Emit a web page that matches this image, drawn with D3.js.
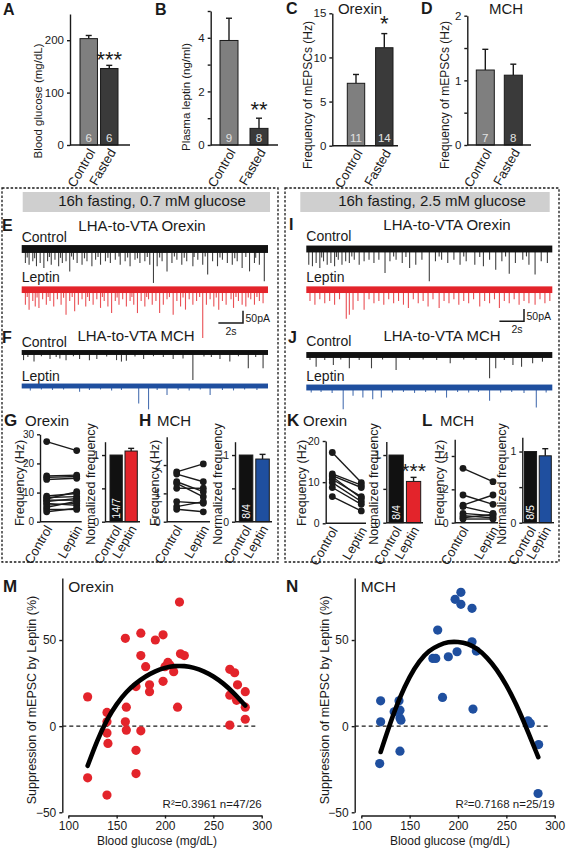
<!DOCTYPE html>
<html><head><meta charset="utf-8">
<script src="https://cdn.jsdelivr.net/npm/d3@7"></script>
<style>
body{margin:0;background:#fff}
svg{display:block}
text{font-family:"Liberation Sans",Arial,Helvetica,sans-serif;fill:#1a1a1a}
</style></head>
<body><svg id="chart" width="566" height="852"></svg>
<script>
// ---------------- DATA ----------------
const fastCats = ["Control", "Fasted"];
const glucoseMean = [203, 146], glucoseSem = [6, 6], glucoseN = ["6", "6"];
const leptinMean = [3.9, 0.62], leptinSem = [0.83, 0.38], leptinN = ["9", "8"];
const orexinFreqMean = [7.07, 11.1], orexinFreqSem = [1.0, 1.6], orexinFreqN = ["11", "14"];
const mchFreqMean = [1.16, 1.08], mchFreqSem = [0.32, 0.17], mchFreqN = ["7", "8"];

const pairCats = ["Control", "Leptin"];
// paired frequencies [control, leptin] (Hz)
const gOrexinPairs = [[27.5,24.4],[15.7,16.0],[15.2,15.5],[14.5,14.9],[8.8,9.7],[8.3,8.6],[7.8,10.3],[7.4,7.4],[6.9,8.0],[6.3,5.6],[5.7,6.3],[4.9,7.0],[4.2,4.2],[3.4,4.6]];
const hMchPairs = [[1.76,2.04],[1.68,1.41],[1.41,1.06],[1.35,0.88],[1.18,1.18],[0.71,0.65],[0.53,0.71],[0.44,0.35]];
const kOrexinPairs = [[17.2,9.9],[12.0,9.3],[11.6,8.7],[11.3,6.1],[10.7,6.5],[9.9,5.3],[8.7,4.6],[6.5,3.0]];
const lMchPairs = [[3.26,2.46],[1.66,1.1],[1.05,1.66],[0.96,0.56],[0.56,0.42],[0.42,0.3],[0.3,0.5],[0.22,0.22]];
// normalized frequency [control, leptin], sem
const gNorm = [1, 1.06], gNormSem = [null, 0.04], gNormN = "14/7";
const hNorm = [1, 0.94], hNormSem = [null, 0.07], hNormN = "8/4";
const kNorm = [1, 0.61], kNormSem = [null, 0.06], kNormN = "8/4";
const lNorm = [1, 0.94], lNormSem = [null, 0.1], lNormN = "8/5";

// scatter: [blood glucose mg/dL, suppression %]
const orexinScatter = [[120,17],[120,-30],[140,8],[140,2.5],[140,-4],[141,-10],[140,-40],[159,51],[160,11],[159,2.5],[160,-2.3],[170,23],[170,-14],[170,-27.5],[175,54],[175,41],[175,-2.7],[180,34.5],[184,24],[184,20],[190,50],[198,53],[198,26],[200,34.5],[203,37],[205,35.5],[209,31.6],[213,11],[215,72],[216,42],[220,41],[267,33],[272,31],[267,18],[267,0.6],[275,24],[274,15],[283,20],[283,11],[283,4]];
const mchScatter = [[120,14.7],[120,2.5],[119,-21.7],[134,8.3],[139,14.7],[140,9.3],[140,4.8],[141,3.5],[140,-14.5],[174,39.3],[177,39.3],[179,55.8],[184,16.7],[190,40.3],[197,73.6],[203,77.7],[203,70.7],[199,43.2],[214.5,68.4],[214.5,49],[215.5,9.9],[219,43.6],[272.4,3.1],[274.8,1.6],[283.4,-10.7],[282.8,-39.1]];
// fitted curves
const orexinFit = [[120,-23],[130,-8],[140,4],[150,13],[160,20],[170,25],[180,29],[190,32],[200,34],[210,35],[220,35],[230,34],[240,32],[250,29],[260,25],[270,20],[283,12]];
const mchFit = [[120,-15],[130,2],[140,17],[150,29],[160,38],[170,44],[180,47],[190,49],[200,49],[210,48],[220,45],[230,40],[240,33],[250,24],[260,13],[270,0],[283,-18]];
const orexinStats = "R\u00b2=0.3961  n=47/26";
const mchStats = "R\u00b2=0.7168   n=25/19";

// mEPSC traces: spikes [time s, amplitude pA (inward, downward)]
const eCtrlSpikes = [[0.3,57],[0.45,35],[0.6,64],[0.9,50],[1.05,38],[1.2,70],[1.5,57],[1.8,77],[2.1,50],[2.25,33],[2.4,64],[2.7,44],[3.0,70],[3.15,36],[3.3,57],[3.6,50],[3.9,91],[4.05,30],[4.2,44],[4.5,57],[4.9,64],[5.1,38],[5.3,50],[5.7,70],[6.0,44],[6.2,33],[6.4,64],[6.8,50],[7.0,36],[7.2,57],[7.6,44],[7.9,30],[8.0,64],[8.4,50],[8.6,35],[8.8,70],[9.2,44],[9.4,38],[9.6,57],[10.0,50],[10.2,33],[10.4,64],[10.7,138],[11.0,70],[11.2,35],[11.4,50],[11.8,91],[12.2,57],[12.4,30],[12.6,44],[13.0,64],[13.2,36],[13.4,50],[13.9,70],[14.0,33],[14.3,44],[14.7,64],[14.9,30],[15.1,104],[15.5,50],[15.9,70],[16.1,35],[16.3,44],[16.7,57],[17.1,64],[17.3,38],[17.5,50],[17.9,77],[18.2,33],[18.5,91],[18.9,57],[19.0,36],[19.3,64],[19.7,131]];
const eLepSpikes = [[0.3,61],[0.45,30],[0.6,81],[0.9,46],[1.1,68],[1.25,32],[1.4,74],[1.7,39],[2.0,61],[2.15,30],[2.3,46],[2.6,68],[2.9,39],[3.2,61],[3.4,33],[3.6,102],[3.9,46],[4.1,30],[4.3,88],[4.6,61],[4.9,39],[5.2,68],[5.35,30],[5.5,46],[5.8,61],[6.1,39],[6.4,74],[6.55,30],[6.7,46],[7.0,68],[7.3,95],[7.6,46],[7.75,32],[7.9,61],[8.2,39],[8.5,68],[8.8,46],[8.95,30],[9.1,61],[9.4,95],[9.7,46],[10.0,68],[10.15,30],[10.3,39],[10.6,61],[10.9,46],[11.2,95],[11.5,61],[11.8,39],[12.0,30],[12.3,102],[12.6,46],[12.9,68],[13.1,32],[13.3,81],[13.6,39],[13.9,61],[14.2,46],[14.45,30],[14.7,196],[15.0,61],[15.3,39],[15.6,68],[15.8,32],[16.0,81],[16.3,46],[16.6,61],[17.0,39],[17.2,74],[17.4,30],[17.6,46],[17.9,61],[18.2,68],[18.4,32],[18.6,39],[18.9,61],[19.1,30],[19.3,46],[19.6,55]];
const fCtrlSpikes = [[0.15,31],[0.5,18],[1.0,37],[1.6,15],[2.3,26],[2.8,18],[3.1,24],[3.6,31],[4.2,15],[4.7,26],[5.5,31],[6.1,26],[6.9,16],[7.7,31],[8.1,37],[8.5,34],[9.2,16],[9.9,26],[10.7,15],[11.5,18],[12.3,26],[13.1,24],[13.9,112],[14.8,16],[15.4,18],[16.1,26],[16.9,37],[17.6,15],[18.4,64],[19.0,18],[19.6,64]];
const fLepSpikes = [[0.7,18],[1.6,14],[2.5,16],[3.4,14],[4.7,23],[5.5,16],[6.4,14],[7.3,18],[8.1,16],[9.5,71],[10.3,95],[11.0,16],[11.8,37],[12.7,16],[13.6,18],[14.5,14],[15.3,37],[16.3,16],[17.2,18],[18.1,14],[19.1,16]];
const iCtrlSpikes = [[0.2,64],[0.5,70],[0.8,57],[1.1,77],[1.25,35],[1.4,50],[1.7,64],[2.0,57],[2.3,70],[2.45,33],[2.6,44],[2.9,64],[3.2,50],[3.5,57],[3.7,30],[3.9,44],[4.3,64],[4.7,50],[5.1,44],[5.5,57],[5.9,44],[6.4,98],[6.8,50],[7.1,30],[7.3,44],[7.8,57],[8.1,33],[8.4,77],[8.9,64],[9.4,44],[10.0,131],[10.5,50],[10.8,30],[11.0,44],[11.5,57],[12.0,44],[12.5,64],[12.8,30],[13.0,50],[13.7,64],[14.1,33],[14.4,70],[14.9,44],[15.4,84],[15.9,50],[16.2,30],[16.5,101],[17.0,57],[17.6,44],[17.9,30],[18.1,64],[18.6,104],[19.1,50],[19.6,57]];
const iLepSpikes = [[0.3,46],[0.7,61],[1.1,39],[1.5,55],[1.9,46],[2.3,61],[2.7,39],[3.25,118],[3.5,102],[3.8,81],[4.2,46],[4.7,81],[5.1,39],[5.5,55],[5.9,46],[6.3,61],[6.7,39],[7.1,55],[7.5,46],[7.9,61],[8.3,74],[8.7,39],[9.1,55],[9.5,46],[9.9,68],[10.3,39],[10.8,74],[11.2,46],[11.6,55],[12.0,39],[12.4,61],[12.8,46],[13.2,55],[13.6,39],[14.1,68],[14.5,46],[14.9,55],[15.3,39],[15.7,74],[16.1,46],[16.5,55],[16.9,39],[17.3,61],[17.7,46],[18.1,55],[18.6,61],[19.0,39],[19.4,55],[19.8,46]];
const jCtrlSpikes = [[0.3,20],[0.8,48],[1.5,20],[2.2,41],[2.8,18],[3.5,54],[4.3,20],[5.3,54],[6.2,18],[7.3,61],[8.4,20],[9.5,18],[10.6,20],[11.7,34],[12.8,18],[13.8,20],[14.9,95],[15.4,54],[16.1,20],[16.8,41],[17.5,48],[18.4,34],[19.2,27]];
const jLepSpikes = [[0.4,20],[1.2,18],[2.1,22],[3.0,88],[3.8,34],[4.6,41],[5.4,48],[6.1,41],[7.0,20],[7.9,18],[8.8,22],[9.7,18],[10.5,20],[11.4,41],[12.3,18],[13.2,20],[14.0,18],[14.9,54],[15.8,20],[16.7,18],[17.7,22],[18.7,81],[19.5,20]];

// ---------------- DRAWING ----------------
const svg = d3.select("#chart");
const FONT = '"Liberation Sans", Arial, Helvetica, sans-serif';
const INK = "#1a1a1a";
const RED = "#e3242b", BLUE = "#1f4f9f", GRAY = "#7f7f7f", DARK = "#3a3a3a";

function txt(x, y, s, o = {}) {
  const t = svg.append("text").attr("x", x).attr("y", y).text(s)
    .attr("font-size", o.size || 12).attr("text-anchor", o.anchor || "start")
    .style("fill", o.fill || INK);
  if (o.bold) t.attr("font-weight", "bold");
  return t;
}
function yLabel(cx, cy, s, fs) {
  svg.append("text").attr("transform", `translate(${cx},${cy}) rotate(-90)`)
    .attr("text-anchor", "middle").attr("dy", "0.35em").attr("font-size", fs).text(s);
}
function catLabel(x, y, s, fs) {
  svg.append("text").attr("transform", `translate(${x},${y}) rotate(-60)`)
    .attr("text-anchor", "end").attr("font-size", fs).text(s);
}
function styleAxis(ax, fs) {
  ax.attr("font-family", FONT).attr("font-size", fs);
  ax.select(".domain").attr("stroke", INK).attr("stroke-width", 1.4);
  ax.selectAll(".tick line").attr("stroke", INK).attr("stroke-width", 1.4);
  ax.selectAll(".tick text").style("fill", INK);
}
function hline(x1, x2, y, w = 1.4) {
  svg.append("line").attr("x1", x1).attr("x2", x2).attr("y1", y).attr("y2", y)
    .attr("stroke", INK).attr("stroke-width", w);
}

function barPanel(c) {
  const y = d3.scaleLinear().domain(c.domain).range([c.y0, c.yTop]);
  const x = d3.scaleBand().domain(c.cats).range(c.barRange).paddingInner(c.pad).paddingOuter(0);
  const g = svg.append("g");
  const data = c.cats.map((k, i) => ({ k, v: c.vals[i], e: c.sems[i], col: c.colors[i] }));
  data.forEach(d => {
    if (d.e == null) return;
    const cx = x(d.k) + x.bandwidth() / 2;
    g.append("line").attr("x1", cx).attr("x2", cx).attr("y1", y(d.v)).attr("y2", y(d.v + d.e))
      .attr("stroke", INK).attr("stroke-width", 1.4);
    g.append("line").attr("x1", cx - 3).attr("x2", cx + 3).attr("y1", y(d.v + d.e)).attr("y2", y(d.v + d.e))
      .attr("stroke", INK).attr("stroke-width", 1.4);
  });
  g.selectAll("rect.bar").data(data).join("rect").attr("class", "bar")
    .attr("x", d => x(d.k)).attr("y", d => y(d.v)).attr("width", x.bandwidth())
    .attr("height", d => y(0) - y(d.v)).attr("fill", d => d.col)
    .attr("stroke", INK).attr("stroke-width", 1);
  const ax = g.append("g").attr("transform", `translate(${c.axisX},0)`)
    .call(d3.axisLeft(y).tickValues(c.ticks).tickFormat(t => c.labels.includes(t) ? String(t) : "")
      .tickSize(3).tickSizeOuter(0));
  styleAxis(ax, c.tickFs);
  hline(c.axisX, c.xEnd, y(0));
  data.forEach(d => catLabel(x(d.k) + x.bandwidth() / 2 + c.catDx, y(0) + c.catDy, d.k, c.catFs));
  if (c.ns) data.forEach((d, i) => txt(x(d.k) + x.bandwidth() / 2, y(0) - 3.5, c.ns[i], { size: 11.5, anchor: "middle", fill: "#e2e2e2" }));
  if (c.nRot) {
    const cx = x(c.cats[0]) + x.bandwidth() / 2;
    svg.append("text").attr("transform", `translate(${cx},${y(0) - 3}) rotate(-90)`)
      .attr("dy", "0.35em").attr("font-size", 10.5).style("fill", "#fff").text(c.nRot);
  }
  if (c.star) {
    const d = data[c.star.idx];
    txt(x(d.k) + x.bandwidth() / 2, y(d.v + d.e) + c.star.dy, c.star.s, { size: c.star.size || 22, anchor: "middle" });
  }
  yLabel(c.ylx, c.yly, c.ylabel, c.ylFs);
}

function pairPanel(c) {
  const y = d3.scaleLinear().domain(c.domain).range([c.y0, c.yTop]);
  const x = d3.scalePoint().domain(pairCats).range(c.xRange);
  const g = svg.append("g");
  g.selectAll("line.pair").data(c.pairs).join("line").attr("class", "pair")
    .attr("x1", x("Control")).attr("x2", x("Leptin"))
    .attr("y1", d => y(d[0])).attr("y2", d => y(d[1]))
    .attr("stroke", INK).attr("stroke-width", 1.4);
  const pts = c.pairs.flatMap(d => [[x("Control"), y(d[0])], [x("Leptin"), y(d[1])]]);
  g.selectAll("circle").data(pts).join("circle").attr("cx", d => d[0]).attr("cy", d => d[1])
    .attr("r", 3.4).attr("fill", INK);
  const ax = g.append("g").attr("transform", `translate(${c.axisX},0)`)
    .call(d3.axisLeft(y).tickValues(c.ticks).tickFormat(t => c.labels.includes(t) ? String(t) : "")
      .tickSize(3).tickSizeOuter(0));
  styleAxis(ax, c.tickFs);
  hline(c.axisX, c.xEnd, y(0));
  pairCats.forEach(k => catLabel(x(k) + 6, y(0) + 7, k, 13));
  yLabel(c.ylx, c.yly, "Frequency (Hz)", 12.5);
}

function normPanel(c) {
  barPanel({
    cats: pairCats, vals: c.vals, sems: c.sems, colors: ["#111", c.color],
    domain: [0, 1.2], y0: c.y0, yTop: c.yTop, axisX: c.axisX, barRange: c.barRange, pad: 0.18,
    xEnd: c.xEnd, ticks: [0, 0.5, 1], labels: [0, 1], tickFs: 10.5, catDx: 6, catDy: 7, catFs: 13,
    nRot: c.n, star: c.star, ylx: c.ylx, yly: 484, ylabel: "Normalized frequency", ylFs: 12.5
  });
}

function trace(c) {
  const x = d3.scaleLinear().domain([0, 20]).range([c.x0, c.x1]);
  const y = d3.scaleLinear().domain([0, 50]).range([c.yc, c.yc + 12.3]);
  const g = svg.append("g");
  g.selectAll("line").data(c.spikes).join("line")
    .attr("x1", d => x(d[0])).attr("x2", d => x(d[0]))
    .attr("y1", c.yc).attr("y2", d => y(d[1]))
    .attr("stroke", c.color).attr("stroke-width", 1.1).attr("stroke-opacity", 0.8);
  g.append("rect").attr("x", x(0)).attr("width", x(20) - x(0))
    .attr("y", y(-c.noise)).attr("height", y(c.noise) - y(-c.noise)).attr("fill", c.color);
  return { x, y };
}
function scaleBar(s, xr, yb) {
  const w = s.x(2) - s.x(0), h = s.y(50) - s.y(0);
  svg.append("path").attr("d", `M${xr - w},${yb}H${xr}V${yb - h}`).attr("fill", "none")
    .attr("stroke", INK).attr("stroke-width", 1.5);
  txt(xr + 2.5, yb - 1, "50pA", { size: 10.5 });
}

function scatterPanel(c) {
  const x = d3.scaleLinear().domain([100, 300]).range(c.xRange);
  const y = d3.scaleLinear().domain([-50, 86]).range([812.3, 578]);
  const g = svg.append("g");
  g.append("line").attr("x1", c.axisX).attr("x2", c.zeroEnd).attr("y1", y(0)).attr("y2", y(0))
    .attr("stroke", INK).attr("stroke-width", 1.4).attr("stroke-dasharray", "4,3");
  g.selectAll("circle").data(c.pts).join("circle").attr("cx", d => x(d[0])).attr("cy", d => y(d[1]))
    .attr("r", 4.6).attr("fill", c.color);
  g.append("path").datum(c.fit)
    .attr("d", d3.line().x(d => x(d[0])).y(d => y(d[1])).curve(d3.curveBasis))
    .attr("fill", "none").attr("stroke", "#000").attr("stroke-width", 4.6).attr("stroke-linecap", "round");
  const ay = g.append("g").attr("transform", `translate(${c.axisX},0)`)
    .call(d3.axisLeft(y).tickValues([-50, 0, 50]).tickSize(3).tickSizeOuter(0));
  styleAxis(ay, 12);
  const axb = g.append("g").attr("transform", `translate(0,815.5)`)
    .call(d3.axisBottom(x).tickValues([100, 150, 200, 250, 300]).tickSize(3).tickSizeOuter(0));
  styleAxis(axb, 12);
  txt(x(300), 808, c.stats, { size: 11.5, anchor: "end" });
  txt((x(100) + x(300)) / 2 - 8, 845, "Blood glucose (mg/dL)", { size: 12, anchor: "middle" });
  yLabel(c.ylx, 700, "Suppression of mEPSC by Leptin (%)", 12.5);
  txt(c.axisX + 6, 592, c.title, { size: 15.5 });
}

// ---- top row A-D ----
txt(3, 15, "A", { size: 16, bold: true });
txt(155, 15, "B", { size: 16, bold: true });
txt(286, 14, "C", { size: 16, bold: true });
txt(421, 14, "D", { size: 16, bold: true });

barPanel({ cats: fastCats, vals: glucoseMean, sems: glucoseSem, colors: [GRAY, DARK], ns: glucoseN,
  domain: [0, 250], y0: 145, yTop: 14, axisX: 70, barRange: [80, 118], pad: 0.15, xEnd: 130,
  ticks: [0, 100, 200], labels: [0, 100, 200], tickFs: 11.5, catDx: 7, catDy: 7, catFs: 13,
  star: { idx: 1, s: "***", dy: 2 }, ylx: 37.5, yly: 101, ylabel: "Blood glucose (mg/dL)", ylFs: 11.5 });
barPanel({ cats: fastCats, vals: leptinMean, sems: leptinSem, colors: [GRAY, DARK], ns: leptinN,
  domain: [0, 5], y0: 145, yTop: 11, axisX: 210.7, barRange: [220, 268], pad: 0.4, xEnd: 278,
  ticks: [0, 1, 2, 3, 4, 5], labels: [0, 2, 4], tickFs: 11.5, catDx: 7, catDy: 7, catFs: 13,
  star: { idx: 1, s: "**", dy: -1 }, ylx: 186, yly: 97, ylabel: "Plasma leptin (ng/ml)", ylFs: 11.5 });
barPanel({ cats: fastCats, vals: orexinFreqMean, sems: orexinFreqSem, colors: [GRAY, DARK], ns: orexinFreqN,
  domain: [0, 15], y0: 145.7, yTop: 13.3, axisX: 332.3, barRange: [347.3, 393], pad: 0.385, xEnd: 398,
  ticks: [0, 5, 10, 15], labels: [0, 5, 10, 15], tickFs: 11.5, catDx: 7, catDy: 7, catFs: 13,
  star: { idx: 1, s: "*", dy: -3 }, ylx: 308, yly: 95, ylabel: "Frequency of mEPSCs (Hz)", ylFs: 12 });
barPanel({ cats: fastCats, vals: mchFreqMean, sems: mchFreqSem, colors: [GRAY, DARK], ns: mchFreqN,
  domain: [0, 2], y0: 145, yTop: 15.7, axisX: 467.3, barRange: [476.3, 522.3], pad: 0.357, xEnd: 531,
  ticks: [0, 0.5, 1, 1.5, 2], labels: [0, 1, 2], tickFs: 11.5, catDx: 7, catDy: 7, catFs: 13,
  ylx: 445, yly: 95, ylabel: "Frequency of mEPSCs (Hz)", ylFs: 12 });
txt(360, 14, "Orexin", { size: 15, anchor: "middle" });
txt(506, 14, "MCH", { size: 15, anchor: "middle" });

// ---- dashed frames & headers ----
[[2, 278], [285, 559]].forEach(([a, b]) => {
  svg.append("rect").attr("x", a).attr("y", 188).attr("width", b - a).attr("height", 374)
    .attr("fill", "none").attr("stroke", INK).attr("stroke-width", 1.3).attr("stroke-dasharray", "2.5,1.8");
});
svg.append("rect").attr("x", 22.7).attr("y", 192).attr("width", 247.3).attr("height", 20).attr("fill", "#cfcfcf");
svg.append("rect").attr("x", 300.3).attr("y", 192).attr("width", 249.4).attr("height", 20).attr("fill", "#cfcfcf");
txt(152, 205.5, "16h fasting, 0.7 mM glucose", { size: 15, anchor: "middle" });
txt(432, 205.5, "16h fasting, 2.5 mM glucose", { size: 15, anchor: "middle" });

// ---- traces E F (left) ----
txt(2, 231, "E", { size: 16, bold: true });
txt(142, 231, "LHA-to-VTA Orexin", { size: 15, anchor: "middle" });
txt(21.7, 241.5, "Control", { size: 14 });
const sE = trace({ x0: 21.7, x1: 268, yc: 249, noise: 16, color: "#111", spikes: eCtrlSpikes });
txt(21.7, 281.5, "Leptin", { size: 14 });
trace({ x0: 21.7, x1: 268, yc: 289.7, noise: 13.5, color: RED, spikes: eLepSpikes });
scaleBar(sE, 243, 323);
txt(231, 335, "2s", { size: 10.5, anchor: "middle" });

txt(2, 343, "F", { size: 16, bold: true });
txt(136, 341, "LHA-to-VTA MCH", { size: 15, anchor: "middle" });
txt(21.7, 346.5, "Control", { size: 14 });
trace({ x0: 21.7, x1: 268, yc: 352.5, noise: 10, color: "#111", spikes: fCtrlSpikes });
txt(21.7, 381, "Leptin", { size: 14 });
trace({ x0: 21.7, x1: 268, yc: 386, noise: 10, color: BLUE, spikes: fLepSpikes });

// ---- traces I J (right) ----
txt(289, 230, "I", { size: 16, bold: true });
txt(447, 230, "LHA-to-VTA Orexin", { size: 15, anchor: "middle" });
txt(306.3, 240.5, "Control", { size: 14 });
const sI = trace({ x0: 306.3, x1: 552.3, yc: 249, noise: 14, color: "#111", spikes: iCtrlSpikes });
txt(306.3, 281.5, "Leptin", { size: 14 });
trace({ x0: 306.3, x1: 552.3, yc: 289.7, noise: 13.5, color: RED, spikes: iLepSpikes });
scaleBar(sI, 524, 321.3);
txt(517, 333, "2s", { size: 10.5, anchor: "middle" });

txt(288, 343, "J", { size: 16, bold: true });
txt(442, 340.7, "LHA-to-VTA MCH", { size: 15, anchor: "middle" });
txt(306.3, 346, "Control", { size: 14 });
trace({ x0: 306.3, x1: 552.3, yc: 355, noise: 12, color: "#111", spikes: jCtrlSpikes });
txt(306.3, 381, "Leptin", { size: 14 });
trace({ x0: 306.3, x1: 552.3, yc: 387.5, noise: 12, color: BLUE, spikes: jLepSpikes });

// ---- G H K L ----
txt(4, 426, "G", { size: 17, bold: true });
txt(25, 425.5, "Orexin", { size: 15 });
txt(139, 426, "H", { size: 17, bold: true });
txt(157, 425.5, "MCH", { size: 15 });
txt(287, 426, "K", { size: 17, bold: true });
txt(303, 425.5, "Orexin", { size: 15 });
txt(422, 426, "L", { size: 17, bold: true });
txt(440, 425.5, "MCH", { size: 15 });

pairPanel({ pairs: gOrexinPairs, domain: [0, 30], y0: 521.7, yTop: 434.3, axisX: 40, xRange: [46.7, 76.7], xEnd: 81.7,
  ticks: [0, 10, 20, 30], labels: [0, 10, 20, 30], tickFs: 10, ylx: 20, yly: 483 });
normPanel({ vals: gNorm, sems: gNormSem, color: RED, n: gNormN, y0: 521.7, yTop: 441.7, axisX: 105,
  barRange: [110, 137.3], xEnd: 140, ylx: 91 });
pairPanel({ pairs: hMchPairs, domain: [0, 3], y0: 521.7, yTop: 436.7, axisX: 166.7, xRange: [176.7, 203.3], xEnd: 210,
  ticks: [0, 1, 2], labels: [0, 1, 2], tickFs: 10.5, ylx: 155, yly: 483 });
normPanel({ vals: hNorm, sems: hNormSem, color: BLUE, n: hNormN, y0: 521.7, yTop: 441.7, axisX: 235,
  barRange: [239.3, 269.3], xEnd: 272, ylx: 218 });
pairPanel({ pairs: kOrexinPairs, domain: [0, 20], y0: 523.3, yTop: 441, axisX: 325.7, xRange: [332.3, 361.3], xEnd: 366,
  ticks: [0, 10, 20], labels: [0, 10, 20], tickFs: 10.5, ylx: 302, yly: 483 });
normPanel({ vals: kNorm, sems: kNormSem, color: RED, n: kNormN, y0: 522.7, yTop: 441.5, axisX: 386.3,
  barRange: [389, 420.7], xEnd: 423, ylx: 374, star: { idx: 1, s: "***", dy: 1, size: 21 } });
pairPanel({ pairs: lMchPairs, domain: [0, 5], y0: 522.7, yTop: 439.3, axisX: 454.7, xRange: [463, 493], xEnd: 498,
  ticks: [0, 2, 4], labels: [0, 2, 4], tickFs: 10.5, ylx: 440, yly: 483 });
normPanel({ vals: lNorm, sems: lNormSem, color: BLUE, n: lNormN, y0: 522.7, yTop: 437.3, axisX: 522.3,
  barRange: [524.5, 551.3], xEnd: 554, ylx: 502 });

// ---- M N scatter ----
txt(3, 592, "M", { size: 17, bold: true });
txt(286, 592, "N", { size: 17, bold: true });
scatterPanel({ pts: orexinScatter, fit: orexinFit, color: RED, xRange: [68.3, 261.7], axisX: 62.3,
  zeroEnd: 256.7, stats: orexinStats, ylx: 32, title: "Orexin" });
scatterPanel({ pts: mchScatter, fit: mchFit, color: BLUE, xRange: [361.3, 554.7], axisX: 354.7,
  zeroEnd: 549.7, stats: mchStats, ylx: 325, title: "MCH" });
</script></body></html>
